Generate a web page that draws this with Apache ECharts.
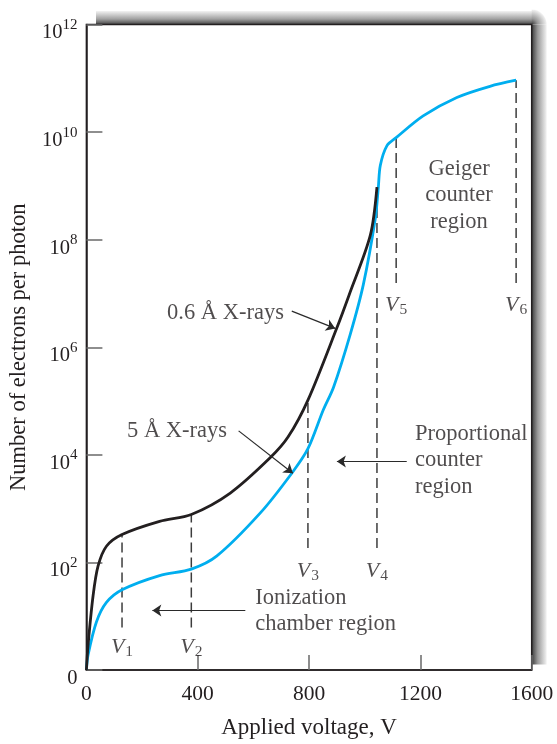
<!DOCTYPE html>
<html><head><meta charset="utf-8">
<script src="https://cdn.jsdelivr.net/npm/echarts@6/dist/echarts.min.js"></script>
<style>html,body{margin:0;padding:0;background:#fff}#c{width:557px;height:744px}</style>
</head><body><div id="c"></div>
<script>
// ---------- data ----------
const voltage06 = [0, 6, 24, 42, 72, 128, 263, 377, 517, 661, 725, 796, 900, 944, 1020, 1044];
const electrons06 = [1, 2.9, 24, 86, 200, 330, 580, 780, 1950, 8900, 21600, 104000, 2.3e6, 9.4e6, 1.2e8, 9.5e8];
const voltage5 = [0, 6, 36, 72, 128, 263, 377, 469, 625, 738, 796, 851, 888, 948, 995, 1038, 1049, 1056, 1080, 1113, 1210, 1331, 1450, 1544];
const electrons5 = [1, 1.9, 7.8, 18, 31, 57, 75, 132, 832, 4550, 13000, 68000, 181000, 1.74e6, 1.46e7, 2.47e8, 9.5e8, 2.4e9, 5.6e9, 7.9e9, 2e10, 4.4e10, 7.1e10, 9.2e10];
const vNames = ['1', '2', '3', '4', '5', '6'];
const vVolts = [128, 377, 796, 1044, 1113, 1544];
const vTop = [330, 780, 104000, 9.5e8, 7.9e9, 9.2e10];
const vBottom = [6.2, 6.2, 186, 186, 1.56e7, 1.56e7];
const vLabelY = [2.66, 2.66, 70, 70, 6.1e6, 6.1e6];
const xTickValues = [0, 400, 800, 1200, 1600];
const yTickExponents = [0, 2, 4, 6, 8, 10, 12];
const annoTexts = ['0.6 Å X-rays', '5 Å X-rays', 'Proportional\ncounter\nregion', 'Geiger\ncounter\nregion', 'Ionization\nchamber region'];
const annoX = [290, 146, 1181, 1339, 607];
const annoY = [4.37e6, 2.79e4, 7970, 6.65e8, 12.5];
const annoAlign = ['left', 'left', 'left', 'center', 'left'];
const arrowFrom = [[738, 4.7e6], [547, 2.79e4], [1151, 7480], [571, 12.8]];
const arrowTo = [[894, 2.24e6], [742, 4550], [900, 7480], [237, 12.8]];
const xTitle = 'Applied voltage, V';
const yTitle = 'Number of electrons per photon';

// ---------- styling ----------
const FONT = "'Liberation Serif','Times New Roman',serif";
const TXT = '#231f20';
const BLACK = '#231f20';
const CYAN = '#00aeef';

const chart = echarts.init(document.getElementById('c'), null, {renderer: 'canvas'});

const series = [];
series.push({
  type: 'line', name: '5 Å X-rays', data: voltage5.map((v, i) => [v, electrons5[i]]),
  showSymbol: false, smooth: 0.3,
  lineStyle: {color: CYAN, width: 2.8}, z: 3, silent: true
});
series.push({
  type: 'line', name: '0.6 Å X-rays', data: voltage06.map((v, i) => [v, electrons06[i]]),
  showSymbol: false, smooth: 0.3,
  lineStyle: {color: BLACK, width: 2.8}, z: 4, silent: true
});
vVolts.forEach((v, i) => {
  series.push({
    type: 'line', data: [[v, vBottom[i]], [v, vTop[i]]], showSymbol: false,
    lineStyle: {color: '#3c3c3c', width: 1.5, type: [10, 5]}, z: 2, silent: true
  });
});
series.push({
  type: 'scatter', symbolSize: 0, silent: true, z: 5,
  data: vVolts.map((v, i) => ({value: [v, vLabelY[i]], name: vNames[i]})),
  label: {
    show: true, position: 'inside', align: 'center', verticalAlign: 'middle',
    formatter: p => '{v|V}{n|' + p.name + '}',
    rich: {
      v: {fontFamily: FONT, fontSize: 22, fontStyle: 'italic', color: TXT, lineHeight: 22},
      n: {fontFamily: FONT, fontSize: 15.5, color: TXT, lineHeight: 15, padding: [10, 0, 0, 1]}
    }
  }
});
annoTexts.forEach((t, i) => {
  series.push({
    type: 'scatter', symbolSize: 0, silent: true, z: 5,
    data: [{value: [annoX[i], annoY[i]], name: t}],
    label: {
      show: true, position: 'inside', align: annoAlign[i], verticalAlign: 'middle',
      formatter: p => p.name, fontFamily: FONT, fontSize: 22.5, color: TXT, lineHeight: 26.5
    }
  });
});
series.push({
  type: 'lines', coordinateSystem: 'cartesian2d', silent: true, z: 5,
  symbol: ['none', 'arrow'], symbolSize: 9,
  lineStyle: {color: '#2a2a2a', width: 1.2, opacity: 1, curveness: 0},
  data: arrowFrom.map((f, i) => ({coords: [f, arrowTo[i]]}))
});

const option = {
  backgroundColor: '#fff',
  animation: false,
  textStyle: {fontFamily: FONT},
  grid: {left: 86, top: 24.5, right: 25.3, bottom: 69, show: true, borderColor: BLACK, borderWidth: 1.5, backgroundColor: 'transparent'},
  graphic: [
    {type: 'rect', shape: {x: 96, y: 11, width: 436, height: 13.5}, z: -1, silent: true,
     style: {fill: new echarts.graphic.LinearGradient(0, 0, 0, 1, [{offset: 0, color: '#f3f3f3'}, {offset: 0.6, color: '#a0a0a0'}, {offset: 1, color: '#444'}])}},
    {type: 'rect', shape: {x: 531.7, y: 24.5, width: 15, height: 640}, z: -1, silent: true,
     style: {fill: new echarts.graphic.LinearGradient(0, 0, 1, 0, [{offset: 0, color: '#3c3c3c'}, {offset: 0.4, color: '#9a9a9a'}, {offset: 1, color: '#f3f3f3'}])}},
    {type: 'sector', shape: {cx: 531.7, cy: 24.5, r: 15, startAngle: -Math.PI / 2, endAngle: 0}, z: -1, silent: true,
     style: {fill: new echarts.graphic.RadialGradient(0, 1, 1, [{offset: 0, color: '#3c3c3c'}, {offset: 0.4, color: '#9a9a9a'}, {offset: 1, color: '#f3f3f3'}])}}
  ],
  xAxis: {
    type: 'value', min: xTickValues[0], max: xTickValues[xTickValues.length - 1], interval: 400,
    name: xTitle, nameLocation: 'middle', nameGap: 46,
    nameTextStyle: {fontFamily: FONT, fontSize: 23, color: TXT},
    axisLine: {show: true, lineStyle: {color: BLACK, width: 1.5}},
    axisTick: {show: true, inside: true, length: 15, lineStyle: {color: '#6a6a6a', width: 1.5}},
    axisLabel: {fontFamily: FONT, fontSize: 21.5, color: TXT, margin: 13, showMinLabel: true, showMaxLabel: true,
      formatter: v => String(v)},
    splitLine: {show: false}
  },
  yAxis: {
    type: 'log', logBase: 10, min: Math.pow(10, yTickExponents[0]), max: Math.pow(10, yTickExponents[yTickExponents.length - 1]),
    interval: 2,
    name: yTitle, nameLocation: 'middle', nameGap: 53, nameRotate: 90,
    nameTextStyle: {fontFamily: FONT, fontSize: 22.5, color: TXT},
    axisLine: {show: true, lineStyle: {color: BLACK, width: 1.5}},
    axisTick: {show: true, inside: true, length: 16, lineStyle: {color: '#6a6a6a', width: 1.5}},
    axisLabel: {
      margin: 9, showMinLabel: true, showMaxLabel: true, padding: [17, 0, 0, 0],
      verticalAlignMinLabel: 'middle', verticalAlignMaxLabel: 'middle',
      formatter: v => {
        const e = Math.round(Math.log10(v));
        return e === 0 ? '{b|0}' : '{b|10}{s|' + e + '}';
      },
      rich: {
        b: {fontFamily: FONT, fontSize: 20.5, color: TXT, lineHeight: 22},
        s: {fontFamily: FONT, fontSize: 15, color: TXT, lineHeight: 15, padding: [0, 0, 16, 0]}
      }
    },
    splitLine: {show: false}
  },
  series: series
};
chart.setOption(option);
</script>
</body></html>
